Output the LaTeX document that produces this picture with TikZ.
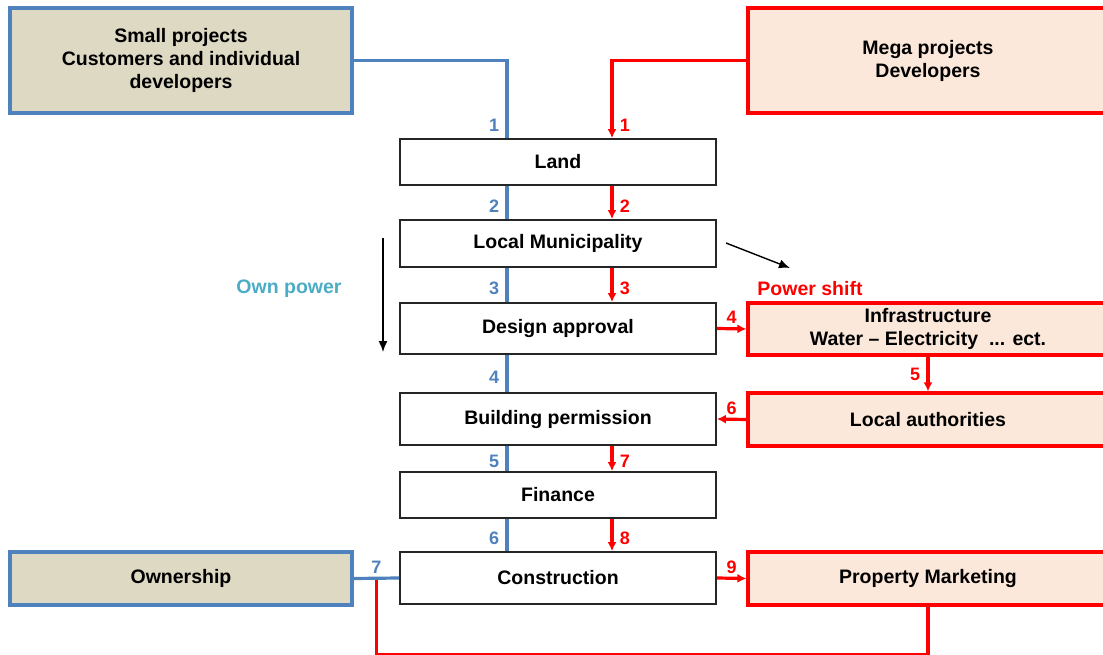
\documentclass[tikz,border=0pt]{standalone}
\usepackage{fontspec}
\setmainfont{Liberation Sans}
\usetikzlibrary{arrows.meta}
\definecolor{boxblue}{HTML}{4F81BD}
\definecolor{boxbeige}{HTML}{DDD9C3}
\definecolor{boxpeach}{HTML}{FCE8DA}
\definecolor{owncyan}{HTML}{4BACC6}
\tikzset{
  stepbox/.style={draw=black!85, line width=1.8pt, minimum width=316pt, align=center,
    font=\bfseries\fontsize{19.5}{23}\selectfont},
  smallbox/.style={stepbox, draw=boxblue, fill=boxbeige, line width=3.2pt, minimum width=342pt},
  megabox/.style={stepbox, draw=red, fill=boxpeach, line width=3.2pt, minimum width=360pt},
  blueline/.style={draw=boxblue, line width=3.2pt},
  redline/.style={draw=red, line width=3.2pt},
  redarrow/.style={redline, -{Latex[length=9pt,width=9pt]}},
  blackarrow/.style={line width=1.4pt, -{Latex[length=11pt,width=9pt]}},
  bluenum/.style={text=boxblue, font=\bfseries\fontsize{18}{20}\selectfont},
  rednum/.style={text=red, font=\bfseries\fontsize{18}{20}\selectfont}
}
\begin{document}
\begin{tikzpicture}[x=1pt,y=-1pt]
\useasboundingbox (0,0) rectangle (1103,655);
\node[smallbox, minimum height=105pt] (small) at (181,60.5) {Small projects\\Customers and individual\\developers};
\node[megabox, minimum height=105pt] (mega) at (928,60.5) {Mega projects\\Developers};
\node[stepbox, minimum height=46pt] (land) at (558,162) {Land};
\node[stepbox, minimum height=47pt] (muni) at (558,243.5) {Local Municipality};
\node[stepbox, minimum height=51pt] (design) at (558,328.5) {Design approval};
\node[stepbox, minimum height=52pt] (build) at (558,419) {Building permission};
\node[stepbox, minimum height=46pt] (finance) at (558,495) {Finance};
\node[stepbox, minimum height=52pt] (constr) at (558,578) {Construction};
\node[megabox, minimum height=52pt] (infra) at (928,329) {Infrastructure\\Water -- Electricity\ \ ... ect.};
\node[megabox, minimum height=53pt] (auth) at (928,419.5) {Local authorities};
\node[megabox, minimum height=53pt] (market) at (928,578.5) {Property Marketing};
\node[smallbox, minimum height=53pt] (owner) at (181,578.5) {Ownership};

\draw[blueline] (small.east) -| ([xshift=-51pt]land.north) node[bluenum, pos=0.92, left=3pt] {1};
\draw[redarrow] (mega.west) -| ([xshift=54pt]land.north) node[rednum, pos=0.92, right=3pt] {1};
\foreach \a/\b/\n in {land/muni/2, muni/design/3, design/build/4, build/finance/5, finance/constr/6}
  \draw[blueline] ([xshift=-51pt]\a.south) -- ([xshift=-51pt]\b.north) node[bluenum, pos=0.6, left=3pt] {\n};
\foreach \a/\b/\n in {land/muni/2, muni/design/3, build/finance/7, finance/constr/8}
  \draw[redarrow] ([xshift=54pt]\a.south) -- ([xshift=54pt]\b.north) node[rednum, pos=0.6, right=3pt] {\n};

\draw[redarrow] (design.east) -- (infra.west) node[rednum, midway, above] {4};
\draw[redarrow] (infra.south) -- (auth.north) node[rednum, midway, left=3pt] {5};
\draw[redarrow] (auth.west) -- (build.east) node[rednum, midway, above] {6};
\draw[redarrow] (constr.east) -- (market.west) node[rednum, midway, above] {9};

\path (owner.east) -- (constr.west) coordinate[midway] (jn);
\draw[redline] (market.south) -- ++(0,48) -| (jn);
\draw[blueline] (owner.east) -- (constr.west) node[bluenum, midway, above] {7};

\coordinate (opTop) at (383,238);
\coordinate (opBot) at (383,352);
\draw[blackarrow] (opTop) -- (opBot);
\node[text=owncyan, font=\bfseries\fontsize{19.5}{23}\selectfont] (own) at (289,289) {Own power};
\coordinate (psFrom) at (726,243);
\coordinate (psTo) at (790,268);
\draw[blackarrow] (psFrom) -- (psTo);
\node[text=red, font=\bfseries\fontsize{19.5}{23}\selectfont] (shift) at (810,289) {Power shift};
\end{tikzpicture}
\end{document}
